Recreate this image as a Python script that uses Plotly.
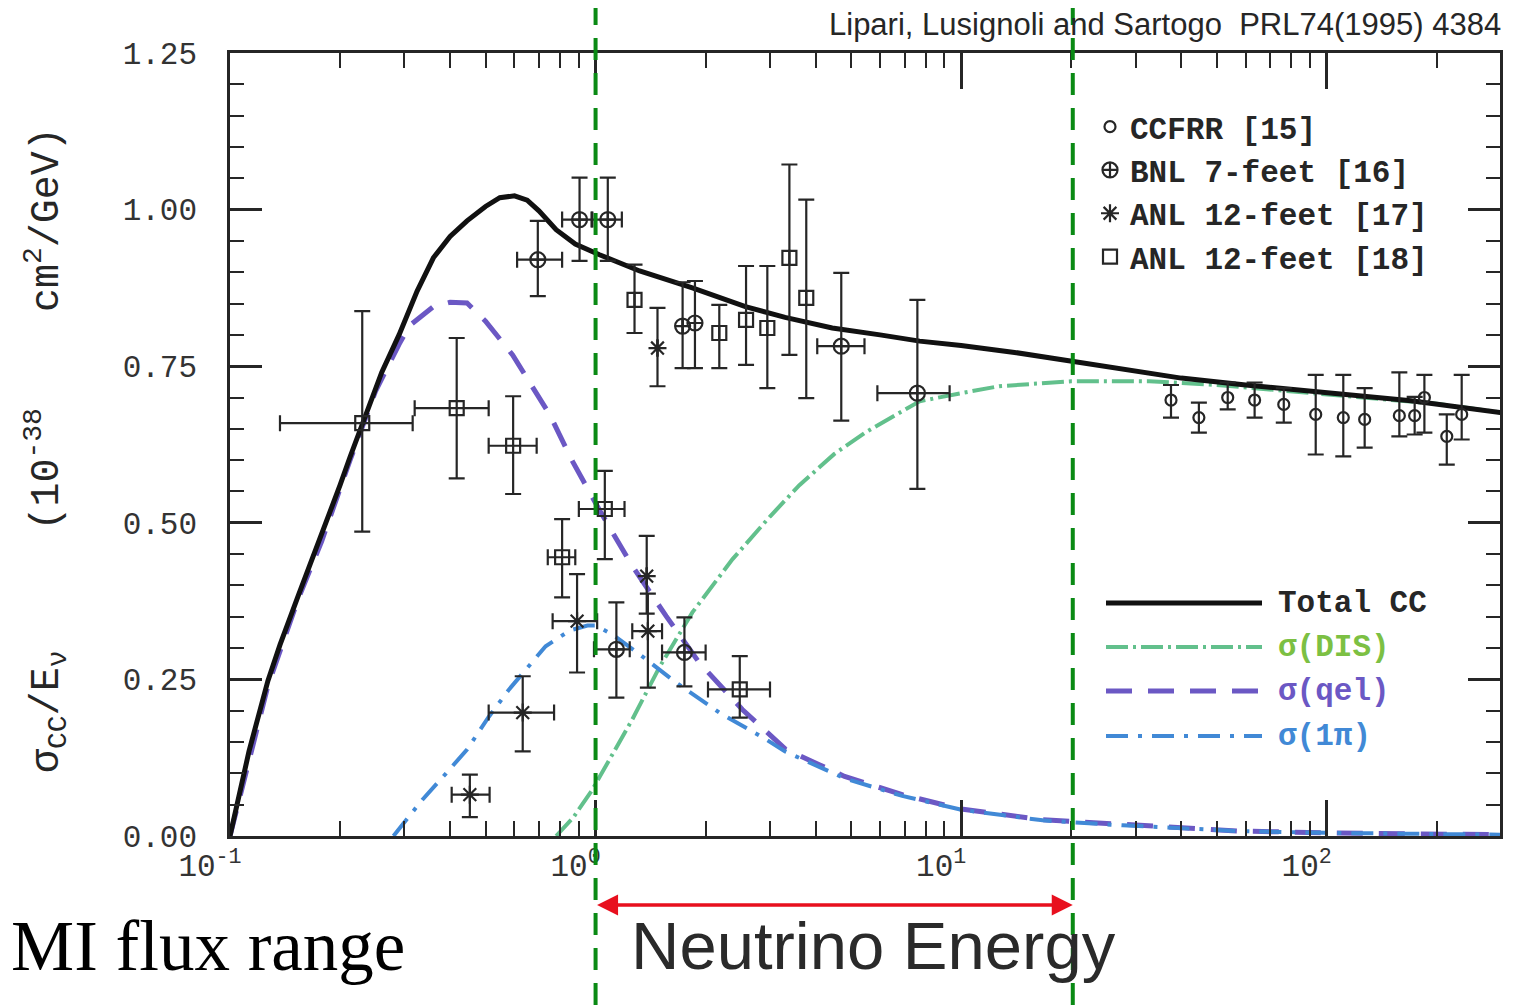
import math
import plotly.graph_objects as go

# ---------------- data ----------------
# model curves: sigma_CC / E_nu  (1e-38 cm^2/GeV)  vs  E_nu (GeV)
total_E = [0.1, 0.1127, 0.127, 0.137, 0.154, 0.178, 0.20, 0.213, 0.232, 0.26, 0.29, 0.325, 0.36, 0.40,
           0.445, 0.50, 0.547, 0.60, 0.65, 0.70, 0.78, 0.88, 1.025, 1.32, 1.84, 2.57, 3.3, 4.44, 6.0,
           7.7, 10, 14, 20.1, 28, 40, 60, 100, 170, 300]
total_sig = [0.0, 0.135, 0.248, 0.305, 0.385, 0.48, 0.56, 0.605, 0.665, 0.74, 0.80, 0.87, 0.923, 0.957,
             0.982, 1.005, 1.019, 1.022, 1.015, 0.998, 0.968, 0.945, 0.928, 0.902, 0.875, 0.845, 0.828,
             0.811, 0.80, 0.79, 0.783, 0.772, 0.758, 0.745, 0.731, 0.72, 0.708, 0.695, 0.676]

dis_E = [0.78, 0.87, 0.98, 1.1, 1.26, 1.5, 1.84, 2.37, 3.0, 3.61, 4.5, 5.5, 7.7, 10, 12.7, 20, 32.7,
         50, 100, 200, 300]
dis_sig = [0.0, 0.03, 0.074, 0.125, 0.186, 0.271, 0.357, 0.442, 0.51, 0.56, 0.61, 0.645, 0.694, 0.707,
           0.718, 0.726, 0.726, 0.72, 0.705, 0.69, 0.676]

qel_E = [0.1, 0.127, 0.154, 0.178, 0.213, 0.25, 0.29, 0.31, 0.36, 0.40, 0.445, 0.5, 0.593, 0.75, 0.865,
         1.03, 1.26, 1.56, 1.92, 2.52, 3.3, 4.8, 6.9, 10, 16.7, 27.7, 57, 100, 300]
qel_sig = [0.0, 0.24, 0.38, 0.47, 0.6, 0.71, 0.785, 0.815, 0.845, 0.852, 0.851, 0.822, 0.768, 0.672,
           0.598, 0.518, 0.431, 0.351, 0.277, 0.202, 0.139, 0.095, 0.066, 0.043, 0.026, 0.018, 0.008,
           0.005, 0.002]

pi_E = [0.28, 0.336, 0.39, 0.445, 0.51, 0.58, 0.73, 0.85, 0.95, 1.0, 1.11, 1.32, 1.66, 2.18, 2.93, 3.3,
        4.8, 6.9, 10, 16.7, 27.7, 57, 100, 300]
pi_sig = [0.0, 0.058, 0.10, 0.138, 0.19, 0.234, 0.303, 0.328, 0.336, 0.336, 0.322, 0.29, 0.245, 0.197,
          0.154, 0.135, 0.092, 0.064, 0.042, 0.025, 0.017, 0.008, 0.005, 0.002]

# CCFRR [15]
ccfrr_E = [37.5, 44.7, 53.6, 63.5, 76.3, 93.3, 111, 127, 158, 174, 185, 213, 234]
ccfrr_sig = [0.696, 0.668, 0.700, 0.696, 0.689, 0.673, 0.668, 0.665, 0.671, 0.671, 0.700, 0.638, 0.673]
ccfrr_up = [0.024, 0.024, 0.024, 0.028, 0.026, 0.063, 0.068, 0.050, 0.069, 0.030, 0.036, 0.035, 0.063]
ccfrr_dn = [0.028, 0.024, 0.019, 0.028, 0.029, 0.064, 0.062, 0.045, 0.033, 0.030, 0.056, 0.045, 0.040]

# BNL 7-feet [16]
bnl_E = [0.695, 0.904, 1.08, 1.14, 1.73, 1.75, 1.87, 4.7, 7.59]
bnl_sig = [0.920, 0.984, 0.984, 0.298, 0.814, 0.293, 0.819, 0.782, 0.707]
bnl_up = [0.062, 0.067, 0.067, 0.075, 0.070, 0.056, 0.067, 0.117, 0.149]
bnl_dn = [0.058, 0.066, 0.066, 0.077, 0.067, 0.054, 0.072, 0.119, 0.153]
bnl_Elo = [0.61, 0.81, 0.98, 0.99, 1.73, 1.52, 1.87, 4.04, 5.9]
bnl_Ehi = [0.81, 0.975, 1.18, 1.24, 1.73, 2.0, 1.87, 5.44, 9.3]

# ANL 12-feet [17]
anl17_E = [0.453, 0.632, 0.89, 1.38, 1.39, 1.477]
anl17_sig = [0.066, 0.197, 0.343, 0.415, 0.327, 0.779]
anl17_up = [0.032, 0.058, 0.075, 0.064, 0.060, 0.064]
anl17_dn = [0.036, 0.062, 0.082, 0.060, 0.090, 0.061]
anl17_Elo = [0.404, 0.51, 0.763, 1.38, 1.26, 1.477]
anl17_Ehi = [0.513, 0.77, 1.01, 1.38, 1.52, 1.477]

# ANL 12-feet [18]
anl18_E = [0.23, 0.417, 0.595, 0.81, 1.06, 1.278, 2.18, 2.48, 2.58, 2.95, 3.39, 3.77]
anl18_sig = [0.659, 0.683, 0.623, 0.445, 0.522, 0.856, 0.803, 0.234, 0.824, 0.811, 0.923, 0.859]
anl18_up = [0.179, 0.112, 0.079, 0.061, 0.061, 0.056, 0.045, 0.053, 0.086, 0.099, 0.149, 0.157]
anl18_dn = [0.173, 0.112, 0.077, 0.064, 0.080, 0.053, 0.056, 0.045, 0.072, 0.096, 0.155, 0.160]
anl18_Elo = [0.137, 0.32, 0.51, 0.74, 0.90, 1.278, 2.18, 2.03, 2.58, 2.95, 3.39, 3.77]
anl18_Ehi = [0.316, 0.51, 0.69, 0.88, 1.20, 1.278, 2.18, 3.0, 2.58, 2.95, 3.39, 3.77]

y_ticks = [0.0, 0.25, 0.5, 0.75, 1.0, 1.25]
y_ticktext = ["0.00", "0.25", "0.50", "0.75", "1.00", "1.25"]
x_ticks = [0.1, 1, 10, 100]
x_ticktext = ["10<sup>-1</sup>", "10<sup>0</sup>", "10<sup>1</sup>", "10<sup>2</sup>"]
x_minor = [m * d for d in (0.1, 1, 10, 100) for m in range(2, 10) if m * d < 300]

flux_lo, flux_hi = 1.0, 20.2   # NuMI flux range marks (GeV)

# ---------------- layout geometry ----------------
# the page body has an 8 px default margin, so the figure is drawn 8 px smaller
OFF = 8
VW, VH = 1514, 1005          # browser viewport
W, H = VW - OFF, VH - OFF    # figure size
PLOT_L, PLOT_R, PLOT_T, PLOT_B = 230, 1500, 53, 836   # plot box in viewport px
L, T = PLOT_L - OFF, PLOT_T - OFF
R = W - (PLOT_R - OFF)
B = H - (PLOT_B - OFF)
XR = [-1, 2.474]
YR = [0, 1.25]
PW, PH = W - L - R, H - T - B


def pxx(px):  # viewport px -> paper x
    return (px - OFF - L) / PW


def pxy(py):  # viewport px -> paper y
    return (H - B - (py - OFF)) / PH


def e2paper(E):
    return (math.log10(E) - XR[0]) / (XR[1] - XR[0])


MONO = "Liberation Mono"
INK = "#262626"

fig = go.Figure()

# model curves
DIS_DASH = "22px,5px,3px,5px"
QEL_DASH = "26px,16px"
PI_DASH = "22px,10px,4px,10px"
fig.add_trace(go.Scatter(x=dis_E, y=dis_sig, mode="lines", showlegend=False,
                         line=dict(color="#62c08c", width=4, dash=DIS_DASH)))
fig.add_trace(go.Scatter(x=qel_E, y=qel_sig, mode="lines", showlegend=False,
                         line=dict(color="#6b58c4", width=5, dash=QEL_DASH)))
fig.add_trace(go.Scatter(x=pi_E, y=pi_sig, mode="lines", showlegend=False,
                         line=dict(color="#4189d6", width=4, dash=PI_DASH)))
fig.add_trace(go.Scatter(x=total_E, y=total_sig, mode="lines", showlegend=False,
                         line=dict(color="#111111", width=5)))


def data_trace(name, E, s, up, dn, Elo=None, Ehi=None, symbol="circle-open", size=14):
    ex = None
    if Elo is not None:
        ex = dict(type="data", symmetric=False,
                  array=[h - e for h, e in zip(Ehi, E)],
                  arrayminus=[e - l for e, l in zip(E, Elo)],
                  color=INK, thickness=2.2, width=8)
    return go.Scatter(
        x=E, y=s, mode="markers", name=name,
        marker=dict(symbol=symbol, size=size, color=INK, line=dict(width=2.2, color=INK)),
        error_y=dict(type="data", symmetric=False, array=up, arrayminus=dn,
                     color=INK, thickness=2.2, width=8),
        error_x=ex)


fig.add_trace(data_trace("CCFRR [15]", ccfrr_E, ccfrr_sig, ccfrr_up, ccfrr_dn,
                         symbol="circle-open", size=11))
fig.add_trace(data_trace("BNL 7-feet [16]", bnl_E, bnl_sig, bnl_up, bnl_dn, bnl_Elo, bnl_Ehi,
                         symbol="circle-cross-open", size=15))
fig.add_trace(data_trace("ANL 12-feet [17]", anl17_E, anl17_sig, anl17_up, anl17_dn, anl17_Elo, anl17_Ehi,
                         symbol="asterisk-open", size=15))
fig.add_trace(data_trace("ANL 12-feet [18]", anl18_E, anl18_sig, anl18_up, anl18_dn, anl18_Elo, anl18_Ehi,
                         symbol="square-open", size=14))

axis_common = dict(showline=True, linewidth=2.5, linecolor=INK, mirror="ticks",
                   ticks="inside", tickcolor=INK, tickwidth=2.5, showgrid=False, zeroline=False,
                   tickfont=dict(family=MONO, size=31, color="#333333"))

fig.update_xaxes(type="log", range=XR, tickvals=x_ticks, ticktext=x_ticktext, ticklen=36,
                 ticklabelshift=-20,
                 minor=dict(tickvals=x_minor, ticks="inside", ticklen=15, tickwidth=2, tickcolor=INK),
                 **axis_common)
fig.update_yaxes(range=YR, tickvals=y_ticks, ticktext=y_ticktext, ticklen=32, ticklabelstandoff=24,
                 minor=dict(dtick=0.05, ticks="inside", ticklen=14, tickwidth=2, tickcolor=INK),
                 **axis_common)

shapes = []
# vertical green dashed lines marking the flux range
for E in (flux_lo, flux_hi):
    xp = e2paper(E)
    shapes.append(dict(type="line", xref="paper", yref="paper", x0=xp, x1=xp,
                       y0=pxy(VH), y1=pxy(OFF), line=dict(color="#0a8a14", width=4, dash="22px,13px")))

# manual legend for curves
leg_items = [("Total CC", "#111111", "solid", 5, INK, 603),
             ("σ(DIS)", "#62c08c", DIS_DASH, 4, "#7cc043", 647),
             ("σ(qel)", "#6b58c4", QEL_DASH, 5, "#6b58c4", 691),
             ("σ(1π)", "#4189d6", PI_DASH, 4, "#4189d6", 736)]
annotations = []
for label, lc, dash, lw, tc, py in leg_items:
    shapes.append(dict(type="line", xref="paper", yref="paper", x0=pxx(1106), x1=pxx(1262),
                       y0=pxy(py), y1=pxy(py), line=dict(color=lc, width=lw, dash=dash)))
    annotations.append(dict(xref="paper", yref="paper", x=pxx(1276), y=pxy(py), xanchor="left",
                            yanchor="middle", showarrow=False, text=label,
                            font=dict(family=MONO, size=31, color=tc, weight="bold")))

# red double arrow for flux range
annotations.append(dict(xref="x", yref="paper", x=math.log10(flux_hi), y=pxy(905),
                        axref="x", ayref="pixel", ax=math.log10(flux_lo), ay=0,
                        showarrow=True, arrowhead=2, arrowside="end+start", arrowsize=1.2,
                        arrowwidth=3.5, arrowcolor="#e8101e", text=""))
annotations.append(dict(xref="paper", yref="paper", x=pxx(873), y=pxy(946), showarrow=False,
                        text="Neutrino Energy", xanchor="center", yanchor="middle",
                        font=dict(family="Liberation Sans", size=67, color="#2a2a2a")))
annotations.append(dict(xref="paper", yref="paper", x=pxx(OFF + 1), y=pxy(946), showarrow=False,
                        text="MI flux range", xanchor="left", yanchor="middle",
                        font=dict(family="Liberation Serif", size=71, color="#000000")))
annotations.append(dict(xref="paper", yref="paper", x=pxx(1503), y=pxy(25), showarrow=False,
                        text="Lipari, Lusignoli and Sartogo  PRL74(1995) 4384", xanchor="right",
                        yanchor="middle", font=dict(family="Liberation Sans", size=31, color=INK)))
annotations.append(dict(xref="paper", yref="paper", x=pxx(46), y=pxy(450), showarrow=False,
                        textangle=-90, xanchor="center", yanchor="middle",
                        text="σ<sub>CC</sub>/E<sub>ν</sub>     (10<sup>-38</sup>    cm<sup>2</sup>/GeV)",
                        font=dict(family=MONO, size=40, color=INK)))

fig.update_layout(
    width=W, height=H, margin=dict(l=L, r=R, t=T, b=B),
    paper_bgcolor="white", plot_bgcolor="white",
    shapes=shapes, annotations=annotations,
    legend=dict(x=pxx(1090), y=pxy(100), xanchor="left", yanchor="top",
                font=dict(family=MONO, size=31, color=INK, weight="bold"), bgcolor="rgba(0,0,0,0)",
                itemwidth=30, tracegroupgap=0),
)

fig.write_html("out.html")
